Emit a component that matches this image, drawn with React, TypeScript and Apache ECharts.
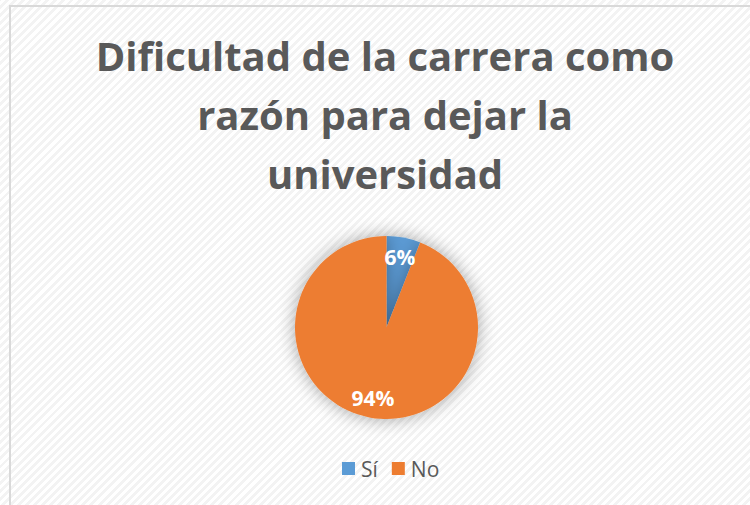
import React, { useEffect, useRef } from "react";
import * as echarts from "echarts";

const titleText = "Dificultad de la carrera como\nrazón para dejar la\nuniversidad";
const categories = ["Sí", "No"];
const values = [6, 94];
const colors = ["#5B9BD5", "#ED7D31"];

export default function App() {
  const ref = useRef<HTMLDivElement>(null);
  useEffect(() => {
    if (!ref.current) return;
    const chart = echarts.init(ref.current, null, { renderer: "svg" });
    const data = categories.map((name, i) => ({ name, value: values[i] }));
    const R = 91.5;
    const center = [376.5, 327.5];
    chart.setOption({
      animation: false,
      backgroundColor: "transparent",
      color: colors,
      title: {
        text: titleText,
        left: "center",
        top: 26,
        padding: 0,
        textStyle: {
          fontFamily: "Open Sans",
          fontWeight: "bold",
          fontSize: 40,
          lineHeight: 59,
          color: "#595959",
        },
      },
      legend: {
        data: categories,
        left: 332,
        top: 458,
        padding: 0,
        icon: "rect",
        itemWidth: 13,
        itemHeight: 13,
        itemGap: 14,
        textStyle: { fontFamily: "Open Sans", fontSize: 21, color: "#595959", padding: [0, 0, 0, 1] },
      },
      series: [
        {
          type: "pie",
          radius: [0, R],
          center,
          data,
          label: { show: false },
          labelLine: { show: false },
          emphasis: { disabled: true },
          itemStyle: {
            borderWidth: 0,
            shadowBlur: 18,
            shadowColor: "rgba(0,0,0,0.35)",
          },
        },
        {
          type: "pie",
          radius: [R * 0.5, R],
          center,
          data,
          silent: true,
          emphasis: { disabled: true },
          itemStyle: { color: "transparent", borderWidth: 0 },
          labelLine: { show: false },
          label: {
            show: true,
            position: "inside",
            formatter: "{d}%",
            color: "#ffffff",
            fontFamily: "Open Sans",
            fontWeight: "bold",
            fontSize: 21,
          },
        },
      ],
    });
    return () => chart.dispose();
  }, []);

  return (
    <div
      style={{
        position: "absolute",
        left: 0,
        top: 0,
        width: 750,
        height: 505,
        overflow: "hidden",
        background:
          "repeating-linear-gradient(-45deg, #ffffff 0px, #ffffff 2.9px, #f3f3f3 2.9px, #f3f3f3 5.7px)",
      }}
    >
      <div
        style={{
          position: "absolute",
          left: 9,
          top: 5,
          width: 800,
          height: 600,
          border: "2px solid #d9d9d9",
          boxSizing: "border-box",
        }}
      />
      <div ref={ref} style={{ position: "absolute", left: 10, top: 0, width: 750, height: 505 }} />
    </div>
  );
}
